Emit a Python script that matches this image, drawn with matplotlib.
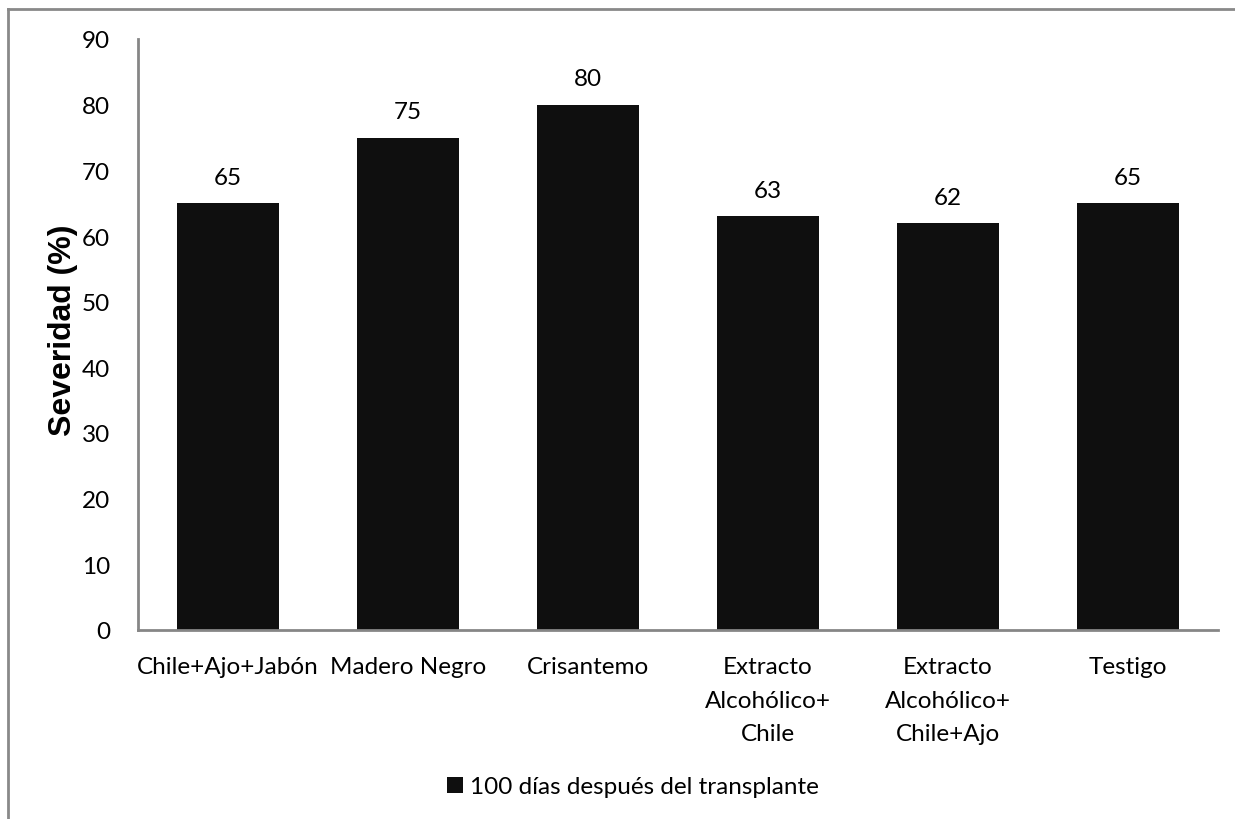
import matplotlib

matplotlib.use("Agg")
import matplotlib.pyplot as plt
import numpy as np

categories = [
    "Chile+Ajo+Jabón",
    "Madero Negro",
    "Crisantemo",
    "Extracto\nAlcohólico+\nChile",
    "Extracto\nAlcohólico+\nChile+Ajo",
    "Testigo",
]
severity = [65, 75, 80, 63, 62, 65]
series_label = "100 días después del transplante"
yticks = list(range(0, 100, 10))

BAR = "#0f0f0f"
AXIS = "#868686"
FONT = "Lato"
FS = 17.5

fig = plt.figure(figsize=(12.35, 8.2), dpi=100)
ax = fig.add_axes([138 / 1235, 189 / 820, 1080 / 1235, 591 / 820])

x = np.arange(len(categories))
bars = ax.bar(x, severity, width=0.567, color=BAR, label=series_label, zorder=2)
for rect, v in zip(bars, severity):
    ax.annotate(f"{v}", (rect.get_x() + rect.get_width() / 2, v), xytext=(0, 11),
                textcoords="offset points", ha="center", va="bottom",
                fontsize=FS, family=FONT, color="#000000")

ax.set_xlim(-0.5, len(categories) - 0.5)
ax.set_ylim(0, 90)
ax.set_yticks(yticks)
ax.set_xticks(x)
ax.set_xticklabels(categories, fontsize=FS, family=FONT, linespacing=1.72)
for lab in ax.get_yticklabels():
    lab.set_fontsize(FS)
    lab.set_family(FONT)
ax.tick_params(axis="both", length=0)
ax.tick_params(axis="y", pad=20)
ax.tick_params(axis="x", pad=19)

for side in ("top", "right"):
    ax.spines[side].set_visible(False)
for side in ("left", "bottom"):
    ax.spines[side].set_color(AXIS)
    ax.spines[side].set_linewidth(2)

ax.set_ylabel("Severidad (%)", fontsize=23, fontweight="bold", family="Liberation Sans")
ax.yaxis.set_label_coords(-0.056, (330 - 40) / -591 + 1)

fig.legend(loc="center", bbox_to_anchor=(633 / 1235, 1 - 788 / 820), frameon=False,
           prop={"family": FONT, "size": FS}, handlelength=0.65, handleheight=0.65, handletextpad=0.3)

# outer chart frame
fig.add_artist(plt.Line2D([8 / 1235, 1], [1 - 10 / 820, 1 - 10 / 820], color="#898989", lw=2, transform=fig.transFigure))
fig.add_artist(plt.Line2D([8 / 1235, 8 / 1235], [0, 1 - 10 / 820], color="#898989", lw=2, transform=fig.transFigure))

fig.savefig("out.png", dpi=100)
